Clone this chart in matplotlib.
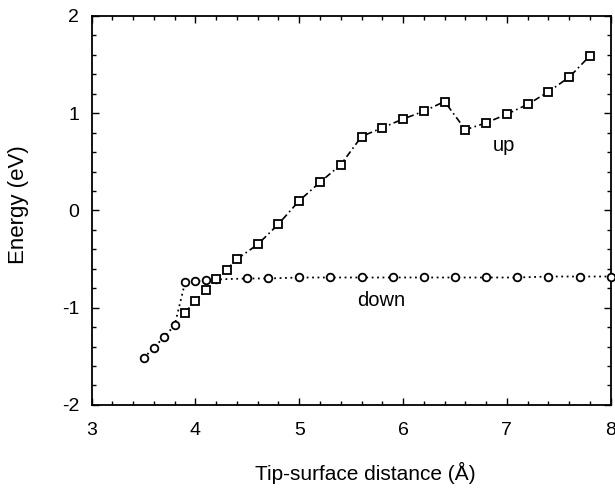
import matplotlib
matplotlib.use("Agg")
import matplotlib.pyplot as plt
from matplotlib.ticker import MultipleLocator

plt.rcParams['font.family'] = ['Liberation Sans', 'DejaVu Sans']
plt.rcParams['axes.unicode_minus'] = False

# spin-up branch (squares, dash-dot)
up_x = [3.9, 4.0, 4.1, 4.2, 4.3, 4.4, 4.6, 4.8, 5.0, 5.2, 5.4, 5.6, 5.8,
        6.0, 6.2, 6.4, 6.6, 6.8, 7.0, 7.2, 7.4, 7.6, 7.8]
up_y = [-1.05, -0.93, -0.82, -0.71, -0.61, -0.50, -0.35, -0.14, 0.10, 0.29,
        0.47, 0.76, 0.85, 0.94, 1.02, 1.12, 0.83, 0.90, 0.99, 1.09, 1.22,
        1.37, 1.59]

# spin-down branch (circles, dotted)
down_x = [3.5, 3.6, 3.7, 3.8, 3.9, 4.0, 4.1, 4.2, 4.5, 4.7, 5.0, 5.3, 5.6,
          5.9, 6.2, 6.5, 6.8, 7.1, 7.4, 7.7, 8.0]
down_y = [-1.52, -1.41, -1.30, -1.18, -0.74, -0.73, -0.72, -0.71, -0.70,
          -0.70, -0.69, -0.69, -0.69, -0.69, -0.69, -0.69, -0.69, -0.69,
          -0.68, -0.68, -0.68]

fig = plt.figure(figsize=(6.15, 4.98), dpi=100)
ax = fig.add_axes([0.149, 0.187, 0.844, 0.781])

ax.plot(down_x, down_y, linestyle=(0, (1, 2)), color='black', linewidth=1.3,
        marker='o', markersize=5.5, markerfacecolor='white',
        markeredgecolor='black', markeredgewidth=1.3, clip_on=False, zorder=3)
ax.plot(up_x, up_y, linestyle=(0, (4, 2, 1, 2)), color='black', linewidth=1.2,
        marker='s', markersize=6, markerfacecolor='white',
        markeredgecolor='black', markeredgewidth=1.3, zorder=4)

ax.text(6.97, 0.67, "up", fontsize=14.5, ha='center', va='center')
ax.text(5.79, -0.93, "down", fontsize=14.5, ha='center', va='center')

ax.set_xlim(3, 8)
ax.set_ylim(-2, 2)
ax.xaxis.set_major_locator(MultipleLocator(1))
ax.xaxis.set_minor_locator(MultipleLocator(0.2))
ax.yaxis.set_major_locator(MultipleLocator(1))
ax.yaxis.set_minor_locator(MultipleLocator(0.2))
ax.tick_params(which='both', direction='in', top=True, right=True, labelsize=14)
ax.tick_params(axis='x', which='major', pad=12)
ax.tick_params(axis='y', which='major', pad=9)
ax.tick_params(which='major', length=5, width=1)
ax.tick_params(which='minor', length=3, width=1)
for s in ax.spines.values():
    s.set_linewidth(1.3)

ax.set_xlabel("Tip-surface distance (Å)", fontsize=15)
ax.set_ylabel("Energy (eV)", fontsize=16)
ax.xaxis.set_label_coords(0.528, -0.147)
ax.yaxis.set_label_coords(-0.12, 0.515)

fig.savefig("out.png", dpi=100)
